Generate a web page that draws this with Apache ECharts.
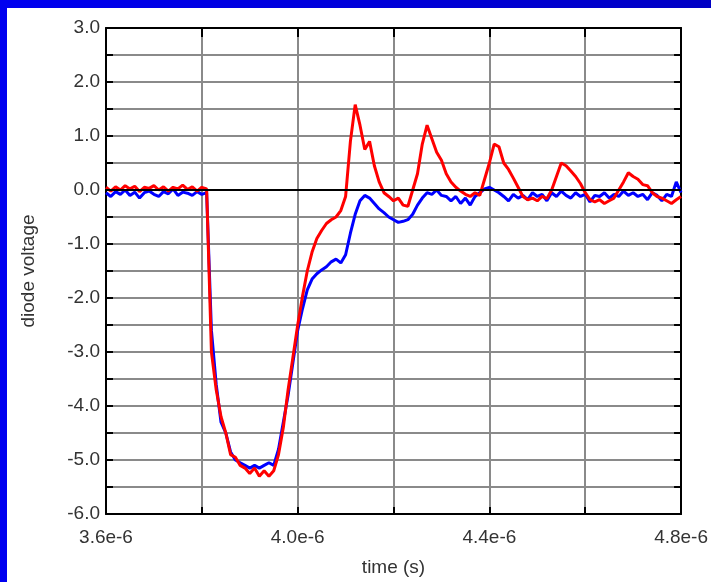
<!DOCTYPE html>
<html>
<head>
<meta charset="utf-8">
<script src="https://cdn.jsdelivr.net/npm/echarts@6/dist/echarts.min.js"></script>
<style>
  html, body { margin: 0; padding: 0; background: #fff; }
  #chart { width: 711px; height: 582px; }
</style>
</head>
<body>
<div id="chart"></div>
<script>
// sample times, in microseconds (one sample every 0.01 us)
const sampleStart = 3.6;
const sampleStep = 0.01;

// red trace (diode voltage, V), 3.60 .. 4.80 us
const redVolts = [
  0.05, -0.02, 0.06, 0.00, 0.08, 0.02, 0.07, -0.03, 0.05, 0.03,
  0.08, 0.00, 0.06, -0.02, 0.05, 0.02, 0.09, 0.01, 0.06, -0.02,
  0.05, 0.02, -3.0, -3.7, -4.2, -4.5, -4.9, -4.95, -5.1, -5.15,
  -5.25, -5.15, -5.3, -5.2, -5.3, -5.2, -4.9, -4.4, -3.7, -3.1,
  -2.5, -1.97, -1.5, -1.15, -0.9, -0.75, -0.62, -0.55, -0.5, -0.38,
  -0.12, 0.9, 1.58, 1.2, 0.75, 0.9, 0.45, 0.15, -0.05, -0.12,
  -0.2, -0.15, -0.28, -0.3, 0.0, 0.3, 0.85, 1.2, 0.95, 0.7,
  0.55, 0.3, 0.15, 0.05, -0.02, -0.08, -0.12, -0.05, -0.1, 0.2,
  0.5, 0.85, 0.8, 0.5, 0.38, 0.22, 0.05, -0.12, -0.18, -0.15,
  -0.2, -0.12, -0.16, 0.0, 0.25, 0.5, 0.45, 0.35, 0.25, 0.12,
  -0.05, -0.18, -0.22, -0.18, -0.25, -0.2, -0.15, 0.0, 0.15, 0.32,
  0.25, 0.2, 0.1, 0.08, -0.05, -0.12, -0.15, -0.2, -0.25, -0.18,
  -0.12
];

// blue trace (diode voltage, V), 3.60 .. 4.80 us
const blueVolts = [
  -0.05, -0.12, -0.03, -0.08, 0.0, -0.1, -0.04, -0.15, -0.05, -0.02,
  -0.08, -0.12, -0.03, -0.07, 0.02, -0.1, -0.04, -0.06, -0.1, -0.03,
  -0.08, -0.05, -2.6, -3.6, -4.3, -4.5, -4.85, -5.0, -5.05, -5.1,
  -5.15, -5.1, -5.15, -5.1, -5.05, -5.1, -4.8, -4.3, -3.8, -3.2,
  -2.6, -2.2, -1.85, -1.65, -1.55, -1.48, -1.42, -1.33, -1.28, -1.35,
  -1.2, -0.8, -0.45, -0.2, -0.1, -0.15, -0.25, -0.35, -0.42, -0.5,
  -0.55, -0.6, -0.58, -0.55, -0.45, -0.28, -0.15, -0.05, -0.08, 0.0,
  -0.1, -0.12, -0.2, -0.12, -0.25, -0.15, -0.28, -0.12, -0.05, 0.02,
  0.05, 0.0, -0.05, -0.12, -0.2, -0.08, -0.15, -0.1, -0.18, -0.05,
  -0.12, -0.08, -0.2, -0.05, -0.12, -0.02, -0.1, -0.15, -0.05, -0.12,
  -0.08, -0.22, -0.1, -0.12, -0.05, -0.15, -0.08, -0.12, -0.02, -0.1,
  -0.05, -0.12, -0.08, -0.18, -0.05, -0.1, -0.2, -0.08, -0.12, 0.15,
  -0.05
];

const timeUs = redVolts.map((v, i) => +(sampleStart + i * sampleStep).toFixed(2));

const labelFont = { fontFamily: "Liberation Sans", fontSize: 19, color: "#333" };
const gridGray = "#8a8a8a";

const chart = echarts.init(document.getElementById("chart"));
chart.setOption({
  animation: false,
  backgroundColor: "#fff",
  graphic: [
    {
      type: "rect", left: 0, top: 0, z: 100,
      shape: { width: 711, height: 8 },
      style: {
        fill: new echarts.graphic.LinearGradient(0, 0, 1, 0, [
          { offset: 0, color: "#0000f0" },
          { offset: 1, color: "#0000c4" }
        ])
      }
    },
    {
      type: "rect", left: 0, top: 0, z: 100,
      shape: { width: 7, height: 582 },
      style: { fill: "#0000f0" }
    }
  ],
  grid: { left: 106, right: 28, top: 28, bottom: 66 },
  xAxis: [
    {
      type: "value",
      position: "bottom",
      min: 3.6,
      max: 4.8,
      interval: 0.2,
      name: "time (s)",
      nameLocation: "middle",
      nameGap: 44,
      nameTextStyle: labelFont,
      axisLine: { onZero: false, lineStyle: { color: "#000", width: 2 } },
      axisTick: { inside: true, length: 7, lineStyle: { color: "#000", width: 2 } },
      axisLabel: Object.assign({
        margin: 14,
        showMinLabel: true,
        showMaxLabel: true,
        formatter: function (v) {
          return Math.round(v * 10) % 4 === 0 ? v.toFixed(1) + "e-6" : "";
        }
      }, labelFont),
      splitLine: { show: true, lineStyle: { color: gridGray, width: 2 } }
    },
    {
      type: "value",
      position: "top",
      min: 3.6,
      max: 4.8,
      interval: 0.2,
      axisLine: { onZero: false, lineStyle: { color: "#000", width: 2 } },
      axisTick: { inside: true, length: 9, lineStyle: { color: "#000", width: 2 } },
      axisLabel: { show: false },
      splitLine: { show: false }
    }
  ],
  yAxis: [
    {
      type: "value",
      position: "left",
      min: -6,
      max: 3,
      interval: 0.5,
      name: "diode voltage",
      nameLocation: "middle",
      nameGap: 68,
      nameTextStyle: labelFont,
      axisLine: { onZero: false, lineStyle: { color: "#000", width: 2 } },
      axisTick: { inside: true, length: 7, lineStyle: { color: "#000", width: 2 } },
      axisLabel: Object.assign({
        margin: 6,
        showMinLabel: true,
        showMaxLabel: true,
        formatter: function (v) {
          return Math.abs(v % 1) < 1e-6 ? v.toFixed(1) : "";
        }
      }, labelFont),
      splitLine: { show: true, lineStyle: { color: gridGray, width: 2 } }
    },
    {
      type: "value",
      position: "right",
      min: -6,
      max: 3,
      interval: 0.5,
      axisLine: { onZero: false, lineStyle: { color: "#000", width: 2 } },
      axisTick: { inside: true, length: 7, lineStyle: { color: "#000", width: 2 } },
      axisLabel: { show: false },
      splitLine: { show: false }
    }
  ],
  series: [
    {
      name: "blue",
      type: "line",
      xAxisIndex: 0,
      yAxisIndex: 0,
      showSymbol: false,
      data: timeUs.map((t, i) => [t, blueVolts[i]]),
      lineStyle: { color: "#0000ff", width: 3 }
    },
    {
      name: "red",
      type: "line",
      xAxisIndex: 0,
      yAxisIndex: 0,
      showSymbol: false,
      data: timeUs.map((t, i) => [t, redVolts[i]]),
      lineStyle: { color: "#ff0000", width: 3 },
      markLine: {
        silent: true,
        symbol: "none",
        label: { show: false },
        lineStyle: { color: "#000", width: 2, type: "solid" },
        data: [{ yAxis: 0 }]
      }
    }
  ]
});
</script>
</body>
</html>
